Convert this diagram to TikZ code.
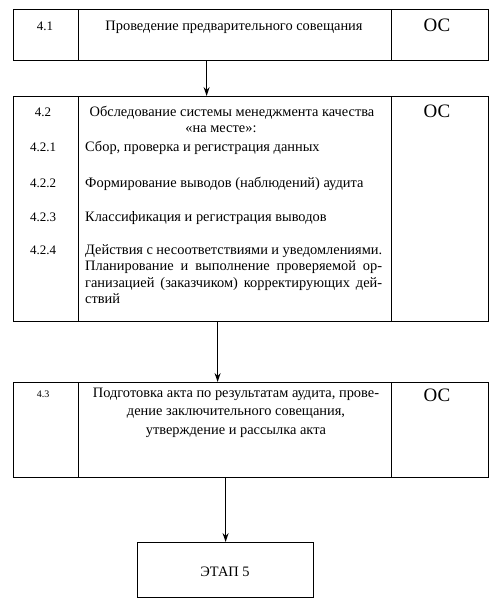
\documentclass[tikz,border=0pt]{standalone}
\usepackage{fontspec}
\setmainfont{Liberation Serif}
\usetikzlibrary{arrows.meta}
\begin{document}
\begin{tikzpicture}[x=1pt,y=-1pt,
  cell/.style={draw, line width=1.2pt, inner sep=0pt, anchor=north west},
  txt/.style={inner sep=0pt, anchor=base, font=\fontsize{14.4}{18.5}\selectfont},
  ltxt/.style={inner sep=0pt, anchor=base west, font=\fontsize{14.4}{16.5}\selectfont},
  numtxt/.style={inner sep=0pt, anchor=base, font=\fontsize{13}{16}\selectfont},
  ostxt/.style={inner sep=0pt, anchor=base, font=\fontsize{19}{22}\selectfont},
  arr/.style={line width=1.4pt, -{Stealth[length=9pt,width=6pt]}}]
\useasboundingbox (0,0) rectangle (498,604);
% Box 1
\node[cell, minimum width=65pt, minimum height=51pt] (n1) at (13,9) {};
\node[cell, minimum width=313pt, minimum height=51pt] (t1) at (78,9) {};
\node[cell, minimum width=97pt, minimum height=51pt] (o1) at (391,9) {};
\node[numtxt] (n1l) at (45,30.5) {4.1};
\node[txt] (t1l) at (234,30.5) {Проведение предварительного совещания};
\node[ostxt] (o1l) at (437,32) {ОС};
% Box 2
\node[cell, minimum width=65pt, minimum height=225pt] (n2) at (13,96) {};
\node[cell, minimum width=313pt, minimum height=225pt] (t2) at (78,96) {};
\node[cell, minimum width=97pt, minimum height=225pt] (o2) at (391,96) {};
\node[numtxt] (n2a) at (43,117) {4.2};
\node[txt] (t2a) at (232,117) {Обследование системы менеджмента качества};
\node[txt] (t2b) at (221,133) {«на месте»:};
\node[ostxt] (o2l) at (437,118) {ОС};
\node[numtxt] (n2b) at (43,152) {4.2.1};
\node[ltxt] (t2c) at (85,152) {Сбор, проверка и регистрация данных};
\node[numtxt] (n2c) at (43,187) {4.2.2};
\node[ltxt] (t2d) at (85,187) {Формирование выводов (наблюдений) аудита};
\node[numtxt] (n2d) at (43,221) {4.2.3};
\node[ltxt] (t2e) at (85,221) {Классификация и регистрация выводов};
\node[numtxt] (n2e) at (43,254) {4.2.4};
\node[ltxt, align=left] (t2f) at (85,303.5) {\makebox[297pt][s]{Действия с несоответствиями и уведомлениями.}\\
\makebox[297pt][s]{Планирование и выполнение проверяемой ор-}\\
\makebox[297pt][s]{ганизацией (заказчиком) корректирующих дей-}\\
ствий};
% Box 3
\node[cell, minimum width=65pt, minimum height=95pt] (n3) at (13,382) {};
\node[cell, minimum width=313pt, minimum height=95pt] (t3) at (78,382) {};
\node[cell, minimum width=97pt, minimum height=95pt] (o3) at (391,382) {};
\node[inner sep=0pt, anchor=base, font=\fontsize{10}{12}\selectfont] (n3l) at (43,397) {4.3};
\node[txt, align=center] (t3l) at (236,434) {Подготовка акта по результатам аудита, прове-\\дение заключительного совещания,\\утверждение и рассылка акта};
\node[ostxt] (o3l) at (437,401) {ОС};
% Etap
\node[cell, minimum width=176pt, minimum height=55pt] (e) at (137,542) {};
\node[txt] (el) at (225,576) {ЭТАП 5};
% Arrows
\draw[arr] ([xshift=-28.5pt]t1.south) -- ([xshift=-28.5pt]t2.north);
\draw[arr] ([xshift=-17.5pt]t2.south) -- ([xshift=-17.5pt]t3.north);
\draw[arr] (t3.south -| e.north) -- (e.north);
\end{tikzpicture}
\end{document}
